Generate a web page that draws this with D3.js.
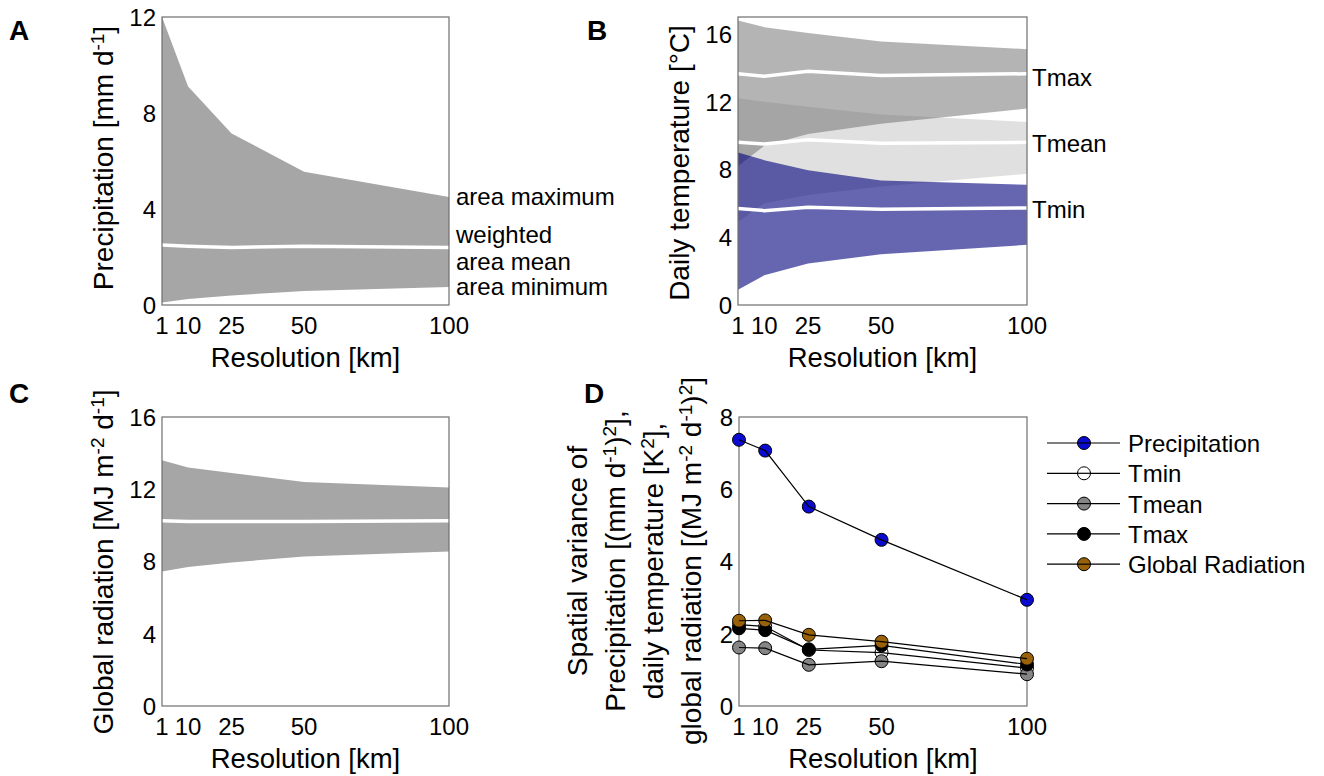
<!DOCTYPE html>
<html>
<head>
<meta charset="utf-8">
<script src="https://cdn.jsdelivr.net/npm/d3@7"></script>
<style>
  body { margin: 0; background: #fff; }
  text { font-family: Arial, "Liberation Sans", sans-serif; fill: #000; }
</style>
</head>
<body>
<div id="chart"></div>
<script>
// resolutions on x
const resolution = [1, 10, 25, 50, 100]
const xTicks = [1, 10, 25, 50, 100]

// A - precipitation
const precMax = [12.0, 9.1, 7.15, 5.55, 4.5]
const precMean = [2.5, 2.45, 2.4, 2.45, 2.4]
const precMin = [0.1, 0.25, 0.4, 0.58, 0.75]

// B - temperature bands
const tmaxMax = [16.8, 16.4, 16.05, 15.55, 15.1]
const tmaxMean = [13.65, 13.5, 13.8, 13.55, 13.65]
const tmaxMin = [8.2, 9.4, 10.1, 10.7, 11.6]
const tmeanMax = [12.2, 12.0, 11.7, 11.25, 10.8]
const tmeanMean = [9.6, 9.5, 9.75, 9.55, 9.6]
const tmeanMin = [4.9, 6.0, 6.5, 7.0, 7.75]
const tminMax = [9.0, 8.55, 7.95, 7.35, 7.1]
const tminMean = [5.7, 5.57, 5.77, 5.65, 5.73]
const tminMin = [0.9, 1.75, 2.45, 3.0, 3.55]

// C - global radiation
const radMax = [13.6, 13.2, 12.9, 12.4, 12.1]
const radMean = [10.25, 10.22, 10.22, 10.22, 10.25]
const radMin = [7.45, 7.7, 7.95, 8.27, 8.55]

// D - spatial variance
const varNames = ["Precipitation", "Tmin", "Tmean", "Tmax", "Global Radiation"]
const varPrec = [7.37, 7.07, 5.52, 4.6, 2.94]
const varTmin = [2.25, 2.2, 1.55, 1.48, 1.05]
const varTmean = [1.62, 1.6, 1.14, 1.24, 0.88]
const varTmax = [2.15, 2.1, 1.57, 1.68, 1.15]
const varRad = [2.36, 2.37, 1.97, 1.78, 1.31]

const svg = d3.select("#chart").append("svg")
    .attr("width", 1324)
    .attr("height", 776)

function band(lo, hi) {
    return resolution.map((r, i) => ({x: r, lo: lo[i], hi: hi[i]}))
}

function makePanel(opts) {
    const x = d3.scaleLinear().domain([1, 100]).range([opts.left, opts.right])
    const y = d3.scaleLinear().domain(opts.yDomain).range([opts.bottom, opts.top])
    const g = svg.append("g")

    // y tick labels
    g.selectAll("text.ytick")
        .data(opts.yTicks)
        .enter()
        .append("text")
        .attr("class", "ytick")
        .attr("x", opts.left - 6)
        .attr("y", d => y(d))
        .attr("dy", "0.37em")
        .attr("text-anchor", "end")
        .style("font-size", "24px")
        .text(d => d)

    // x tick labels
    g.selectAll("text.xtick")
        .data(xTicks)
        .enter()
        .append("text")
        .attr("class", "xtick")
        .attr("x", d => x(d))
        .attr("y", opts.bottom + 29)
        .attr("text-anchor", "middle")
        .style("font-size", "24px")
        .text(d => d)

    g.append("text")
        .attr("x", (opts.left + opts.right) / 2)
        .attr("y", opts.bottom + 62)
        .attr("text-anchor", "middle")
        .style("font-size", "27.5px")
        .text("Resolution [km]")

    g.append("text")
        .attr("x", opts.letterX)
        .attr("y", opts.letterY)
        .style("font-size", "28px")
        .style("font-weight", "bold")
        .text(opts.letter)

    return {x, y, g}
}

function drawBox(p, opts) {
    p.g.append("rect")
        .attr("x", opts.left)
        .attr("y", opts.top)
        .attr("width", opts.right - opts.left)
        .attr("height", opts.bottom - opts.top)
        .attr("fill", "none")
        .attr("stroke", "#6e6e6e")
        .attr("stroke-width", 1.2)
}

function fillBand(p, data, color, opacity) {
    const area = d3.area()
        .x(d => p.x(d.x))
        .y0(d => p.y(d.lo))
        .y1(d => p.y(d.hi))
    p.g.append("path")
        .datum(data)
        .attr("d", area)
        .attr("fill", color)
        .attr("fill-opacity", opacity)
}

function whiteLine(p, vals) {
    const line = d3.line()
        .x((d, i) => p.x(resolution[i]))
        .y(d => p.y(d))
    p.g.append("path")
        .datum(vals)
        .attr("d", line)
        .attr("fill", "none")
        .attr("stroke", "#fff")
        .attr("stroke-width", 3.5)
}

function yLabel(g, xPos, yPos, parts) {
    const t = g.append("text")
        .attr("transform", `translate(${xPos},${yPos}) rotate(-90)`)
        .attr("text-anchor", "middle")
        .style("font-size", "28px")
    parts.forEach(pt => {
        const s = t.append("tspan").text(pt[0])
        if (pt[1] == "sup") s.attr("baseline-shift", "45%").style("font-size", "19px")
    })
}

// ---------- A ----------
const optsA = {left: 162, right: 449, top: 17, bottom: 305, yDomain: [0, 12], yTicks: [0, 4, 8, 12],
    letter: "A", letterX: 9, letterY: 40}
const pA = makePanel(optsA)
fillBand(pA, band(precMin, precMax), "#a6a6a6", 1)
whiteLine(pA, precMean)
drawBox(pA, optsA)
yLabel(pA.g, 113, 158, [["Precipitation [mm d"], ["-1", "sup"], ["]"]])
const aLabels = [["area maximum", 205], ["weighted", 243], ["area mean", 270], ["area minimum", 295]]
pA.g.selectAll("text.side")
    .data(aLabels)
    .enter()
    .append("text")
    .attr("x", 456)
    .attr("y", d => d[1])
    .style("font-size", "24px")
    .text(d => d[0])

// ---------- B ----------
const optsB = {left: 738, right: 1027, top: 17, bottom: 305, yDomain: [0, 17], yTicks: [0, 4, 8, 12, 16],
    letter: "B", letterX: 587, letterY: 40}
const pB = makePanel(optsB)
fillBand(pB, band(tmeanMin, tmeanMax), "rgb(193,193,193)", 0.5)
fillBand(pB, band(tmaxMin, tmaxMax), "rgb(105,105,105)", 0.5)
fillBand(pB, band(tminMin, tminMax), "rgb(0,0,123)", 0.6)
whiteLine(pB, tmaxMean)
whiteLine(pB, tmeanMean)
whiteLine(pB, tminMean)
drawBox(pB, optsB)
yLabel(pB.g, 689, 163, [["Daily temperature [°C]"]])
const bLabels = [["Tmax", 86], ["Tmean", 152], ["Tmin", 218]]
pB.g.selectAll("text.side")
    .data(bLabels)
    .enter()
    .append("text")
    .attr("x", 1032)
    .attr("y", d => d[1])
    .style("font-size", "24px")
    .text(d => d[0])

// ---------- C ----------
const optsC = {left: 162, right: 449, top: 417, bottom: 706, yDomain: [0, 16], yTicks: [0, 4, 8, 12, 16],
    letter: "C", letterX: 9, letterY: 403}
const pC = makePanel(optsC)
fillBand(pC, band(radMin, radMax), "#a6a6a6", 1)
whiteLine(pC, radMean)
drawBox(pC, optsC)
yLabel(pC.g, 113, 562, [["Global radiation [MJ m"], ["-2", "sup"], [" d"], ["-1", "sup"], ["]"]])

// ---------- D ----------
const optsD = {left: 739, right: 1027, top: 417, bottom: 706, yDomain: [0, 8], yTicks: [0, 2, 4, 6, 8],
    letter: "D", letterX: 584, letterY: 403}
const pD = makePanel(optsD)
drawBox(pD, optsD)

const seriesD = [
    {name: varNames[0], vals: varPrec, color: "#0a0ad0"},
    {name: varNames[1], vals: varTmin, color: "#ffffff"},
    {name: varNames[2], vals: varTmean, color: "#858585"},
    {name: varNames[3], vals: varTmax, color: "#000000"},
    {name: varNames[4], vals: varRad, color: "#9a6208"}
]
const lineD = d3.line()
    .x((d, i) => pD.x(resolution[i]))
    .y(d => pD.y(d))

seriesD.forEach(s => {
    pD.g.append("g")
        .selectAll("circle")
        .data(s.vals)
        .enter()
        .append("circle")
        .attr("cx", (d, i) => pD.x(resolution[i]))
        .attr("cy", d => pD.y(d))
        .attr("r", 6.5)
        .attr("fill", s.color)
        .attr("stroke", "#000")
        .attr("stroke-width", 1)
    pD.g.append("path")
        .datum(s.vals)
        .attr("d", lineD)
        .attr("fill", "none")
        .attr("stroke", "#000")
        .attr("stroke-width", 1.2)
})

// multi-line y label for D
const dLines = [
    [["Spatial variance of"]],
    [["Precipitation [(mm d"], ["-1", "sup"], [")"], ["2", "sup"], ["],"]],
    [["daily temperature [K"], ["2", "sup"], ["],"]],
    [["global radiation [(MJ m"], ["-2", "sup"], [" d"], ["-1", "sup"], [")"], ["2", "sup"], ["]"]]
]
const dBase = [587, 625, 663, 701]
dLines.forEach((parts, i) => yLabel(pD.g, dBase[i], 561, parts))

// legend
const legend = svg.append("g")
seriesD.forEach((s, i) => {
    const ly = 443 + i * 30.3
    legend.append("line")
        .attr("x1", 1047).attr("x2", 1120)
        .attr("y1", ly).attr("y2", ly)
        .attr("stroke", "#000")
        .attr("stroke-width", 1.2)
    legend.append("circle")
        .attr("cx", 1084).attr("cy", ly)
        .attr("r", 6.5)
        .attr("fill", s.color)
        .attr("stroke", "#000")
    legend.append("line")
        .attr("x1", 1077).attr("x2", 1091)
        .attr("y1", ly).attr("y2", ly)
        .attr("stroke", "#000")
        .attr("stroke-width", 1.2)
    legend.append("text")
        .attr("x", 1128)
        .attr("y", ly + 9)
        .style("font-size", "24px")
        .text(s.name)
})
</script>
</body>
</html>
